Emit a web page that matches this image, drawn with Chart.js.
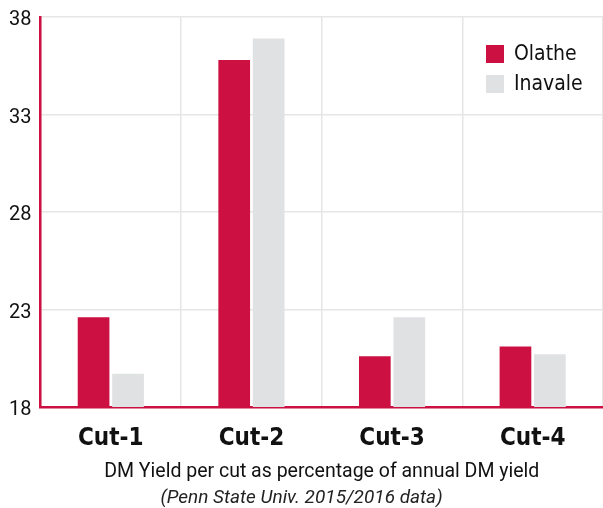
<!DOCTYPE html>
<html>
<head>
<meta charset="utf-8">
<script src="https://cdn.jsdelivr.net/npm/chart.js@4/dist/chart.umd.min.js"></script>
<style>
  html, body { margin: 0; padding: 0; background: #fff; }
  #wrap { width: 603px; height: 508px; }
</style>
</head>
<body>
<div id="wrap"><canvas id="grafico"></canvas></div>
<script>
// DM yield per cut (% of annual DM yield)
const cuts = ['Cut-1', 'Cut-2', 'Cut-3', 'Cut-4'];
const olathe = [22.6, 35.8, 20.6, 21.1];
const inavale = [19.7, 36.9, 22.6, 20.7];
const yTicks = [18, 23, 28, 33, 38];

const red = '#cc1042';
const grey = '#e0e1e3';

// legend drawn inside the chart area, top right
const legendInside = {
  id: 'legendInside',
  afterDraw(chart) {
    const c = chart.ctx;
    const area = chart.chartArea;
    const x = area.right - 117;
    let y = area.top + 28;
    c.save();
    c.font = '21px "DejaVu Sans Condensed", sans-serif';
    c.textBaseline = 'middle';
    chart.data.datasets.forEach(ds => {
      c.fillStyle = ds.backgroundColor;
      c.fillRect(x, y, 18, 18);
      c.fillStyle = '#111';
      c.fillText(ds.label, x + 28, y + 10);
      y += 30;
    });
    c.restore();
  }
};

new Chart(document.getElementById('grafico'), {
  type: 'bar',
  data: {
    labels: cuts,
    datasets: [
      { label: 'Olathe', data: olathe, backgroundColor: red },
      { label: 'Inavale', data: inavale, backgroundColor: grey }
    ]
  },
  plugins: [legendInside],
  options: {
    responsive: true,
    maintainAspectRatio: false,
    animation: false,
    categoryPercentage: 0.49,
    barPercentage: 0.92,
    layout: { padding: { top: 17, right: 0, left: 0, bottom: 0 } },
    plugins: {
      legend: { display: false },
      tooltip: { enabled: false },
      title: {
        display: true,
        position: 'bottom',
        text: '(Penn State Univ. 2015/2016 data)',
        color: '#222',
        font: { family: 'Roboto, sans-serif', size: 19, style: 'italic', weight: 'normal', lineHeight: 1 },
        padding: { top: 0, bottom: 0 }
      }
    },
    scales: {
      x: {
        afterFit: s => { s.height = 82; },
        grid: { color: '#e6e6e6', lineWidth: 1.5, drawTicks: false },
        border: { color: red, width: 2.5 },
        ticks: {
          color: '#111',
          padding: 17,
          font: { family: '"DejaVu Sans Condensed", sans-serif', size: 24, weight: 'bold' }
        },
        title: {
          display: true,
          text: 'DM Yield per cut as percentage of annual DM yield',
          color: '#111',
          font: { family: 'Roboto, sans-serif', size: 19.5 },
          padding: { top: 0, bottom: 5 }
        }
      },
      y: {
        min: 18,
        max: 38,
        afterBuildTicks: axis => { axis.ticks = yTicks.map(v => ({ value: v })); },
        afterFit: s => { s.paddingTop = 0; s.paddingBottom = 0; },
        grid: { color: '#e6e6e6', lineWidth: 1.5, drawTicks: false },
        border: { color: red, width: 2.5 },
        ticks: {
          color: '#111',
          padding: 9,
          labelOffset: 3,
          font: { family: 'Roboto, sans-serif', size: 20 }
        }
      }
    }
  }
});
</script>
</body>
</html>
